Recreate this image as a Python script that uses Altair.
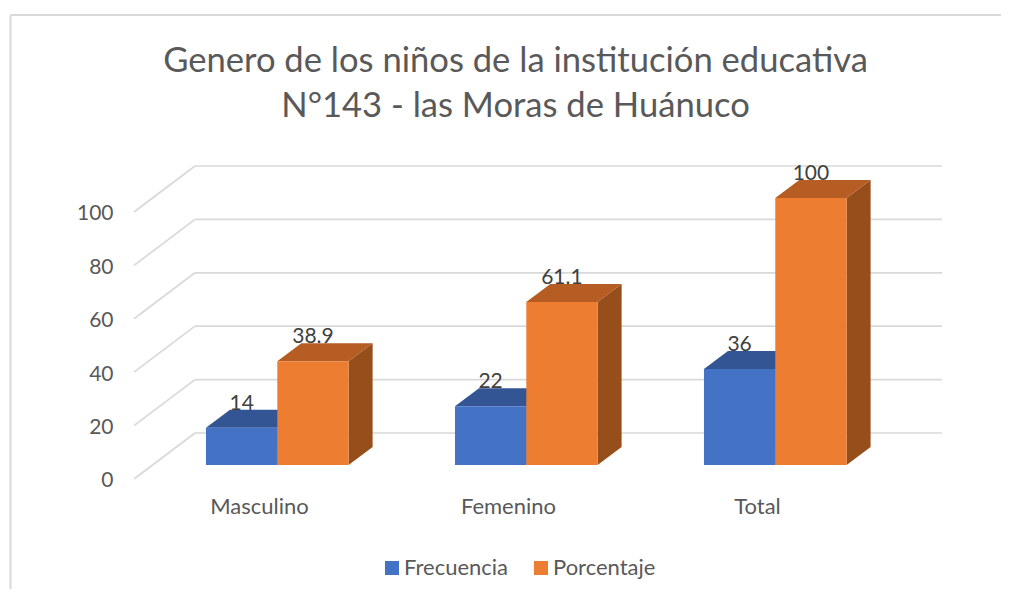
import json
import altair as alt
import pandas as pd

categories = ["Masculino", "Femenino", "Total"]
frecuencia = [14, 22, 36]
porcentaje = [38.9, 61.1, 100]
value_labels_f = ["14", "22", "36"]
value_labels_p = ["38.9", "61.1", "100"]
y_ticks = [0, 20, 40, 60, 80, 100]
title_lines = ["Genero de los niños de la institución educativa", "N°143 - las Moras de Huánuco"]

# 3-D projection expressed in axis units (one x unit = one category step)
FONT = "Lato"
TXT = "#595959"
BAR_X0 = -0.2129      # left edge of a group's first bar, relative to the category
BAR_W = 0.2864
BAR_BASE = 5.2        # floor lift of the bar plane above the front axis plane
BAR_DX, BAR_DY = 0.0964, 6.74
WALL_X0, WALL_X1 = -0.502, 2.743
WALL_DX, WALL_DY = 0.245, 17.23
COL = {"Frecuencia": ("#4472C4", "#335593", "#2F528F"),
       "Porcentaje": ("#ED7D31", "#B55D22", "#964F1A")}

x_scale = alt.Scale(domain=[-1.008, 2.980], nice=False, zero=False)
y_scale = alt.Scale(domain=[-41.2, 176.4], nice=False, zero=False)

front, sides, tops, labels = [], [], [], []
for s, (name, vals, labs) in enumerate([("Frecuencia", frecuencia, value_labels_f),
                                        ("Porcentaje", porcentaje, value_labels_p)]):
    for i, (v, lab) in enumerate(zip(vals, labs)):
        x0 = i + BAR_X0 + s * BAR_W
        x1 = x0 + BAR_W
        base, top = BAR_BASE, BAR_BASE + v
        key = f"{name}{i}"
        front.append(dict(serie=name, x=x0, x2=x1, y=base, y2=top))
        sides += [dict(k=key, c=COL[name][2], x=x1, y=base, y2=top),
                  dict(k=key, c=COL[name][2], x=x1 + BAR_DX, y=base + BAR_DY, y2=top + BAR_DY)]
        tops += [dict(k=key, c=COL[name][1], y=top, x=x0, x2=x1),
                 dict(k=key, c=COL[name][1], y=top + BAR_DY, x=x0 + BAR_DX, x2=x1 + BAR_DX)]
        labels.append(dict(t=lab, x=(x0 + x1) / 2, y=top + BAR_DY))

walls = []
for t in y_ticks:
    walls.append(dict(x=WALL_X0, y=t, x2=WALL_X0 + WALL_DX, y2=t + WALL_DY))
    walls.append(dict(x=WALL_X0 + WALL_DX, y=t + WALL_DY, x2=WALL_X1, y2=t + WALL_DY))

x_axis = alt.Axis(
    values=[0, 1, 2], title=None, grid=False, domain=False, ticks=False,
    labelExpr=f"{json.dumps(categories)}[round(datum.value)]",
    labelFont=FONT, labelFontSize=22, labelColor=TXT, labelPadding=-93)
y_axis = alt.Axis(
    values=y_ticks, title=None, grid=False, domain=False, ticks=False,
    labelFont=FONT, labelFontSize=21, labelColor=TXT, labelAlign="right",
    labelBaseline="middle", labelPadding=-105, labelOffset=2)

X = alt.X("x:Q", scale=x_scale, axis=x_axis)
Y = alt.Y("y:Q", scale=y_scale, axis=y_axis)

grid = alt.Chart(pd.DataFrame(walls)).mark_rule(color="#D9D9D9", strokeWidth=1.7).encode(
    x=X, x2="x2:Q", y=Y, y2="y2:Q")

side_layer = alt.Chart(pd.DataFrame(sides)).mark_area(orient="vertical", opacity=1).encode(
    x=X, y=Y, y2="y2:Q", detail="k:N", color=alt.Color("c:N", scale=None))

top_layer = alt.Chart(pd.DataFrame(tops)).mark_area(orient="horizontal", opacity=1).encode(
    y=Y, x=X, x2="x2:Q", detail="k:N", color=alt.Color("c:N", scale=None))

front_layer = alt.Chart(pd.DataFrame(front)).mark_rect().encode(
    x=X, x2="x2:Q", y=Y, y2="y2:Q",
    color=alt.Color("serie:N", scale=alt.Scale(
        domain=list(COL), range=[COL[k][0] for k in COL]),
        legend=alt.Legend(title=None, orient="none", direction="horizontal",
                          legendX=373, legendY=549, symbolType="square", symbolSize=196,
                          symbolStrokeWidth=0, symbolOpacity=1, labelFont=FONT, labelFontSize=22,
                          labelColor=TXT, labelOffset=1, columnPadding=21)),
)

text_layer = alt.Chart(pd.DataFrame(labels)).mark_text(
    font=FONT, fontSize=21, color="#404040", baseline="alphabetic", align="center"
).encode(x=X, y=Y, text="t:N")

border_top = alt.Chart(pd.DataFrame({"a": [0]})).mark_rule(color="#D9D9D9", strokeWidth=2).encode(
    x=alt.value(2.5), x2=alt.value(993), y=alt.value(7))
border_left = alt.Chart(pd.DataFrame({"a": [0]})).mark_rule(color="#D9D9D9", strokeWidth=2).encode(
    x=alt.value(2.5), y=alt.value(7), y2=alt.value(581))

chart = alt.layer(
    border_top, border_left, grid, side_layer, top_layer, front_layer, text_layer
).properties(
    width=993, height=581, padding=0, autosize=alt.AutoSizeParams(type="none"),
    title=alt.TitleParams(text=title_lines, font=FONT, fontSize=34.6, fontWeight="normal",
                          color=TXT, anchor="middle", baseline="alphabetic", lineHeight=45,
                          dx=11, dy=144, offset=0),
).configure_view(stroke=None)

chart.save("out.html", embed_options={"renderer": "svg", "actions": False})
